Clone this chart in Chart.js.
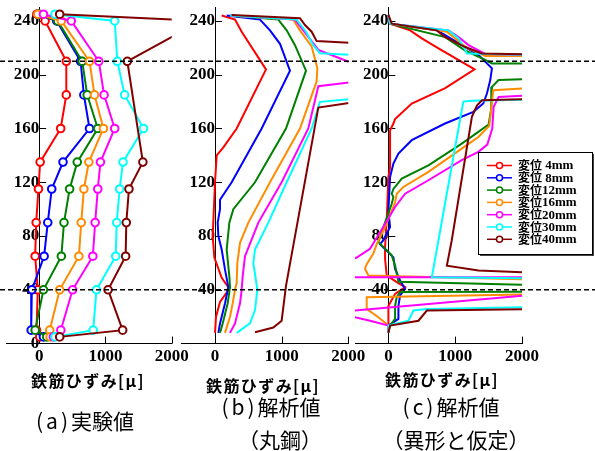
<!DOCTYPE html>
<html>
<head>
<meta charset="utf-8">
<script src="https://cdn.jsdelivr.net/npm/chart.js@4"></script>
<style>
body { margin: 0; background: #fff; }
#wrap { position: relative; width: 595px; height: 451px; overflow: hidden; }
canvas { position: absolute; left: 0; top: 0; }
.t { position: absolute; white-space: nowrap; line-height: 1; transform: translate(-50%, -50%); font-family: "Noto Sans CJK JP"; color: #000; }
.ax { font-weight: bold; font-size: 16px; letter-spacing: 1.4px; }
.cap { font-size: 21px; }
.p { letter-spacing: 3px; }
</style>
</head>
<body>
<div id="wrap">
  <canvas id="chartA" width="595" height="451"></canvas>
  <canvas id="chartB" width="595" height="451"></canvas>
  <canvas id="chartC" width="595" height="451"></canvas>
  <div class="t ax" style="left:88px;top:380px">鉄筋ひずみ[μ]</div>
  <div class="t ax" style="left:263px;top:385px">鉄筋ひずみ[μ]</div>
  <div class="t ax" style="left:442px;top:379px">鉄筋ひずみ[μ]</div>
  <div class="t cap" style="left:85px;top:420px"><span class="p">(a)</span>実験値</div>
  <div class="t cap" style="left:271px;top:406px"><span class="p">(b)</span>解析値</div>
  <div class="t cap" style="left:280px;top:439px">（丸鋼）</div>
  <div class="t cap" style="left:456px;top:439px">（異形と仮定）</div>
  <div class="t cap" style="left:451px;top:406px"><span class="p">(c)</span>解析値</div>
</div>
<script>
const LABELS = ['変位 4mm', '変位 8mm', '変位12mm', '変位16mm', '変位20mm', '変位30mm', '変位40mm'];
const COLORS = ['#ff0000', '#0000ff', '#008000', '#ff8c00', '#ff00ff', '#00ffff', '#800000'];
const X_TICKS = [0, 1000, 2000];
const Y_TICKS_A = [0, 40, 80, 120, 160, 200, 240];
const Y_TICKS_BC = [40, 80, 120, 160, 200, 240];
const DASH_LEVELS = [210, 40];

// (a) experiment: strain at each gauge height
const A_HEIGHTS = [245, 240, 210, 185, 160, 135, 115, 90, 65, 40, 10, 5];
const A_4MM  = [-35, 90, 410, 410, 325, 15, -10, -45, -60, -20, -40, 10];
const A_8MM  = [-20, 265, 625, 675, 760, 360, 190, 130, 75, -110, -120, 65];
const A_12MM = [0, 280, 650, 725, 885, 575, 460, 375, 335, 65, -60, 115];
const A_16MM = [-20, 335, 760, 835, 970, 750, 675, 635, 600, 310, 160, 165];
const A_20MM = [65, 485, 900, 980, 1140, 925, 885, 845, 810, 505, 327, 215];
const A_30MM = [240, 1140, 1180, 1290, 1575, 1265, 1215, 1170, 1155, 865, 815, 240];
const A_40MM = [310, 2440, 1330, null, null, 1565, 1355, 1315, 1305, 1040, 1260, 310];

// (b) analysis, round bar: [strain, height]
const B_4MM = [[100,244],[300,241],[400,232],[765,204],[325,160],[125,146],[25,140],[0,120],[-35,80],[-10,64],[100,49],[200,42],[175,38],[75,31],[15,20],[0,8]];
const B_8MM = [[175,244],[675,241],[825,233],[975,223],[1125,203],[700,160],[250,120],[75,107],[75,100],[40,90],[50,80],[100,70],[150,55],[200,42],[150,30],[75,15],[50,8]];
const B_12MM = [[225,244],[950,241],[1075,233],[1200,222],[1365,203],[1065,160],[600,120],[275,100],[215,90],[175,70],[215,50],[225,42],[190,30],[115,15],[75,8]];
const B_16MM = [[225,244],[1175,241],[1275,233],[1450,221],[1535,205],[1525,195],[1275,160],[825,120],[500,90],[375,75],[335,60],[325,45],[300,40],[265,30],[225,20],[150,8]];
const B_20MM = [[225,244],[1200,241],[1325,233],[1550,218.5],[2300,204],[2300,196],[1550,191.5],[1400,160],[1000,120],[650,90],[450,65],[415,50],[400,40],[375,30],[300,15],[225,8]];
const B_30MM = [[225,244],[1225,241],[1365,232],[1475,222],[1575,216],[2300,214],[2300,183],[1575,179.8],[1450,160],[1075,120],[800,90],[600,70],[575,60],[635,40],[600,25],[525,15],[325,8]];
const B_40MM = [[250,244.5],[1275,242],[1350,237],[1450,232],[1525,225],[2300,223],[2300,181],[1550,175.6],[1065,43],[1000,17],[875,12],[600,8.5]];

// (c) analysis, assumed deformed bar: [strain, height]
const C_4MM = [[0,244.5],[25,238],[325,233],[500,227],[750,219.6],[1290,204],[850,190],[350,178.6],[100,167],[75,163.7],[25,158.7],[25,131],[0,124],[-25,92],[-50,72],[-50,63],[-25,50.7],[125,45.7],[250,42],[100,37],[0,28],[0,13.4],[0,8.4]];
const C_8MM = [[0,244.5],[25,238],[725,233],[850,229.5],[1100,222],[1350,214.6],[1550,204.7],[1525,196],[1475,186],[1420,178.6],[1272,172.4],[848,163.7],[349,151.3],[150,141.3],[75,133.9],[25,124],[0,99],[25,86.7],[-75,77],[-125,74],[0,68],[75,64],[100,55.6],[175,47],[250,40.7],[175,35.8],[150,28],[150,18.4],[0,13.4],[0,8.4]];
const C_12MM = [[0,244.5],[25,238],[850,228],[1150,218],[1450,211],[1550,208.4],[2300,208.4],[2300,197],[1650,196],[1550,191],[1540,175],[1500,163],[1347,157.5],[1098,148.8],[599,132.6],[200,122.7],[75,115],[50,111.5],[75,109],[50,104],[-75,86.7],[-150,75.5],[50,65.6],[100,58],[150,46],[2300,43.5],[2300,38.7],[175,38.3],[125,34.5],[100,28],[100,18.4],[25,13.4],[0,8.4]];
const C_16MM = [[0,244.5],[25,238],[875,232],[1175,220],[1450,214],[2300,213.8],[2300,190.6],[1570,188.5],[1540,175],[1510,162],[1347,153.7],[1098,145],[599,127.7],[225,116.5],[125,111.5],[100,105],[-50,86.7],[-175,74],[-225,67],[-325,59],[-350,55.6],[-300,50.7],[2300,47.5],[2300,36.7],[-325,34.5],[-325,25.8],[-150,19.6],[0,13.4],[0,8.4]];
const C_20MM = [[0,244.5],[25,238],[900,233],[1050,228],[1200,222],[1450,215.5],[2300,214.5],[2300,185],[1650,183.5],[1575,176],[1555,160],[1480,148],[1347,142.6],[1098,136.4],[599,121.5],[250,111.5],[100,101.6],[-50,89],[-200,76.7],[-275,70.5],[-475,64],[-700,60],[-700,49.4],[2300,49.4],[2300,37],[-700,23.7],[-700,22],[-275,17],[0,13.4],[0,8.4]];
const C_30MM = [[0,244.5],[25,238],[900,233],[1050,227],[1150,218.5],[1175,215.8],[2300,214.5],[2300,181.7],[1250,180.7],[1123,180],[1098,173.6],[749,76.7],[650,49.4],[2300,48.5],[2300,27.4],[575,25.8],[375,24.6],[300,17],[0,13.4],[0,8.4]];
const C_40MM = [[0,244.5],[50,238],[725,233],[850,228],[1150,220.6],[1400,215.8],[2300,215],[2300,182],[1400,181],[1325,177],[1250,168.7],[948,76.7],[875,58],[1350,54.4],[2300,52.5],[2300,25.8],[575,24.6],[450,17],[25,13.4],[0,8]];

const A_SERIES = [A_4MM, A_8MM, A_12MM, A_16MM, A_20MM, A_30MM, A_40MM];
const B_SERIES = [B_4MM, B_8MM, B_12MM, B_16MM, B_20MM, B_30MM, B_40MM];
const C_SERIES = [C_4MM, C_8MM, C_12MM, C_16MM, C_20MM, C_30MM, C_40MM];

const TICK_FONT = { family: '"Liberation Serif"', size: 17, weight: 'bold' };

// short tick marks pointing into the plot
const innerTicks = {
    id: 'innerTicks',
    beforeDatasetsDraw(chart) {
        const { ctx, scales: { x, y } } = chart;
        const x0 = x.getPixelForValue(0);
        const y0 = y.getPixelForValue(0);
        ctx.save();
        ctx.strokeStyle = '#000';
        ctx.lineWidth = 1;
        ctx.beginPath();
        Y_TICKS_BC.forEach(v => {
            const py = Math.round(y.getPixelForValue(v)) + 0.5;
            ctx.moveTo(x0, py);
            ctx.lineTo(x0 + 7, py);
        });
        X_TICKS.filter(v => v > 0).forEach(v => {
            const px = Math.round(x.getPixelForValue(v)) + 0.5;
            ctx.moveTo(px, y0);
            ctx.lineTo(px, y0 - 7);
        });
        ctx.stroke();
        ctx.restore();
    }
};

// dashed reference lines across the whole figure
const dashLines = {
    id: 'dashLines',
    afterDraw(chart) {
        const { ctx, scales: { y } } = chart;
        ctx.save();
        ctx.strokeStyle = '#000';
        ctx.lineWidth = 1.5;
        ctx.setLineDash([5, 3]);
        DASH_LEVELS.forEach(v => {
            const py = y.getPixelForValue(v);
            ctx.beginPath();
            ctx.moveTo(0, py);
            ctx.lineTo(595, py);
            ctx.stroke();
        });
        ctx.restore();
    }
};

// boxed legend inside panel (c)
const legendBox = {
    id: 'legendBox',
    afterDraw(chart) {
        const ctx = chart.ctx;
        const L = 478, T = 152, W = 114, H = 102;
        ctx.save();
        ctx.fillStyle = '#444';
        ctx.fillRect(L + 2, T + 2, W, H);
        ctx.fillStyle = '#fff';
        ctx.fillRect(L, T, W, H);
        ctx.strokeStyle = '#000';
        ctx.lineWidth = 1;
        ctx.strokeRect(L + 0.5, T + 0.5, W, H);
        ctx.textBaseline = 'middle';
        chart.data.datasets.forEach((ds, i) => {
            const cy = T + 13.5 + i * 12.3;
            ctx.strokeStyle = ds.borderColor;
            ctx.lineWidth = 1.5;
            ctx.beginPath();
            ctx.moveTo(L + 9, cy);
            ctx.lineTo(L + 34, cy);
            ctx.stroke();
            ctx.beginPath();
            ctx.arc(L + 21.5, cy, 3, 0, Math.PI * 2);
            ctx.fillStyle = '#fff';
            ctx.fill();
            ctx.stroke();
            ctx.fillStyle = '#000';
            const head = ds.label.slice(0, 2);
            const tail = ds.label.slice(2);
            ctx.font = 'bold 12px "Noto Sans CJK JP"';
            ctx.fillText(head, L + 40, cy);
            const w = ctx.measureText(head).width;
            ctx.font = 'bold 13px "Liberation Serif"';
            ctx.fillText(tail, L + 40 + w, cy + 0.5);
        });
        ctx.restore();
    }
};

function makeSets(series, withPoints) {
    return series.map((pts, i) => ({
        label: LABELS[i],
        data: pts,
        showLine: true,
        borderColor: COLORS[i],
        backgroundColor: '#fff',
        borderWidth: 2,
        pointRadius: withPoints ? 3.8 : 0,
        pointBorderWidth: 2,
        pointBackgroundColor: '#fff',
        pointBorderColor: COLORS[i],
        order: LABELS.length - i
    }));
}

function panel(id, datasets, left, right, yTicks, extra) {
    return new Chart(document.getElementById(id), {
        type: 'scatter',
        data: { datasets: datasets },
        options: {
            responsive: false,
            animation: false,
            layout: { padding: { left: left, right: 595 - right, top: 7.5, bottom: 81 } },
            plugins: { legend: { display: false }, tooltip: { enabled: false } },
            scales: {
                x: {
                    type: 'linear', min: -500, max: 2000, position: 'bottom',
                    afterBuildTicks: s => { s.ticks = X_TICKS.map(v => ({ value: v })); },
                    grid: { display: false, drawTicks: false },
                    border: { display: true, color: '#000', width: 1 },
                    ticks: { padding: 3, color: '#000', font: TICK_FONT, maxRotation: 0, autoSkip: false,
                             callback: v => String(v) }
                },
                y: {
                    type: 'linear', min: 0, max: 250, position: { x: 0 },
                    afterBuildTicks: s => { s.ticks = yTicks.map(v => ({ value: v })); },
                    afterFit: s => { s.paddingTop = 0; s.paddingBottom = 0; },
                    grid: { display: false, drawTicks: true, tickLength: 4 },
                    border: { display: true, color: '#000', width: 1 },
                    ticks: { color: '#000', font: TICK_FONT, autoSkip: false, callback: v => String(v) }
                }
            }
        },
        plugins: [innerTicks].concat(extra || [])
    });
}

const aPoints = A_SERIES.map(vals => vals
    .map((v, k) => v === null ? null : { x: v, y: A_HEIGHTS[k] })
    .filter(p => p !== null));
const toXY = series => series.map(pts => pts.map(p => ({ x: p[0], y: p[1] })));

panel('chartA', makeSets(aPoints, true), 3.5, 171.7, Y_TICKS_A);
panel('chartB', makeSets(toXY(B_SERIES), false), 181.7, 348.3, Y_TICKS_BC);
panel('chartC', makeSets(toXY(C_SERIES), false), 355, 522, Y_TICKS_BC, [dashLines, legendBox]);
</script>
</body>
</html>
